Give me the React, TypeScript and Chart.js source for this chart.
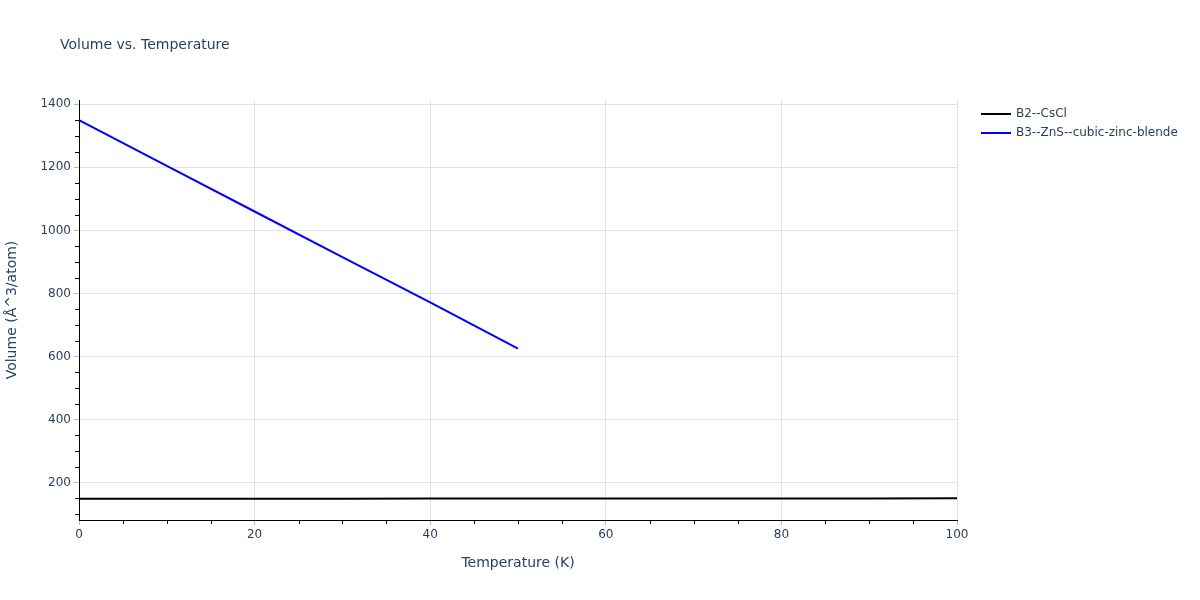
import React, { useEffect, useRef } from "react";
import { Chart, registerables } from "chart.js";

Chart.register(...registerables);

const titleText = "Volume vs. Temperature";
const xTitle = "Temperature (K)";
const yTitle = "Volume (Å^3/atom)";

const seriesNames = ["B2--CsCl", "B3--ZnS--cubic-zinc-blende"];
const seriesColors = ["#000000", "#0000ff"];

const tempCsCl = [0, 10, 20, 30, 40, 50, 60, 70, 80, 90, 100];
const volCsCl = [149.0, 149.1, 149.2, 149.3, 149.4, 149.5, 149.6, 149.7, 149.8, 150.0, 150.2];

const tempZnS = [0, 10, 20, 30, 40, 50];
const volZnS = [1350, 1205, 1060, 915, 772, 625];

const xTicks = [0, 20, 40, 60, 80, 100];
const yTicks = [200, 400, 600, 800, 1000, 1200, 1400];
const xMinorStep = 5;
const yMinorStep = 50;

const X_MIN = 0;
const X_MAX = 100;
const Y_MIN = 81.6;
const Y_MAX = 1413.6;

const FONT = "'DejaVu Sans', sans-serif";
const TEXT_COLOR = "#2a3f5f";

const decorPlugin = {
  id: "decor",
  afterDraw(chart: any) {
    const ctx = chart.ctx as CanvasRenderingContext2D;
    const area = chart.chartArea;
    const xs = chart.scales.x;
    const ys = chart.scales.y;
    ctx.save();
    // minor ticks
    ctx.strokeStyle = "#000000";
    ctx.lineWidth = 1;
    ctx.beginPath();
    for (let v = X_MIN; v <= X_MAX + 1e-9; v += xMinorStep) {
      if (xTicks.includes(v)) continue;
      const px = Math.round(xs.getPixelForValue(v)) + 0.5;
      ctx.moveTo(px, area.bottom);
      ctx.lineTo(px, area.bottom + 4);
    }
    for (let v = Math.ceil(Y_MIN / yMinorStep) * yMinorStep; v <= Y_MAX; v += yMinorStep) {
      if (yTicks.includes(v)) continue;
      const py = Math.round(ys.getPixelForValue(v)) + 0.5;
      ctx.moveTo(area.left, py);
      ctx.lineTo(area.left - 4, py);
    }
    ctx.stroke();

    // title
    ctx.fillStyle = TEXT_COLOR;
    ctx.textBaseline = "middle";
    ctx.textAlign = "left";
    ctx.font = `14px ${FONT}`;
    ctx.fillText(titleText, 60, 45);

    // axis titles
    ctx.font = `14px ${FONT}`;
    ctx.textAlign = "center";
    ctx.fillText(xTitle, (area.left + area.right) / 2, 563);
    ctx.save();
    ctx.translate(12, (area.top + area.bottom) / 2);
    ctx.rotate(-Math.PI / 2);
    ctx.fillText(yTitle, 0, 0);
    ctx.restore();

    // legend
    ctx.font = `12px ${FONT}`;
    ctx.textAlign = "left";
    seriesNames.forEach((name, i) => {
      const y = 114 + i * 19;
      ctx.strokeStyle = seriesColors[i];
      ctx.lineWidth = 2;
      ctx.beginPath();
      ctx.moveTo(981, y);
      ctx.lineTo(1011, y);
      ctx.stroke();
      ctx.fillStyle = TEXT_COLOR;
      ctx.fillText(name, 1016, y);
    });
    ctx.restore();
  },
};

export default function App() {
  const ref = useRef<HTMLCanvasElement | null>(null);
  useEffect(() => {
    if (!ref.current) return;
    const chart = new Chart(ref.current, {
      type: "line",
      data: {
        datasets: [
          {
            label: seriesNames[0],
            data: tempCsCl.map((t, i) => ({ x: t, y: volCsCl[i] })),
            borderColor: seriesColors[0],
            backgroundColor: seriesColors[0],
            borderWidth: 2,
            pointRadius: 0,
            tension: 0,
          },
          {
            label: seriesNames[1],
            data: tempZnS.map((t, i) => ({ x: t, y: volZnS[i] })),
            borderColor: seriesColors[1],
            backgroundColor: seriesColors[1],
            borderWidth: 2,
            pointRadius: 0,
            tension: 0,
          },
        ],
      },
      options: {
        animation: false,
        responsive: false,
        maintainAspectRatio: false,
        layout: { padding: { top: 100, right: 243, left: 0, bottom: 0 } },
        plugins: {
          legend: { display: false },
          title: { display: false },
          tooltip: { enabled: false },
        },
        scales: {
          x: {
            type: "linear",
            min: X_MIN,
            max: X_MAX,
            afterFit: (s: any) => {
              s.height = 80;
            },
            afterBuildTicks: (s: any) => {
              s.ticks = xTicks.map((v) => ({ value: v }));
            },
            grid: {
              color: "#e2e2e2",
              lineWidth: 1,
              drawTicks: true,
              tickLength: 5,
              tickColor: "#bdbdbd",
            },
            border: { display: true, color: "#000000", width: 1 },
            ticks: {
              color: TEXT_COLOR,
              font: { family: FONT, size: 12 },
              padding: 3,
              maxRotation: 0,
              callback: (v: any) => String(v),
            },
          },
          y: {
            type: "linear",
            min: Y_MIN,
            max: Y_MAX,
            afterFit: (s: any) => {
              s.width = 79;
            },
            afterBuildTicks: (s: any) => {
              s.ticks = yTicks.map((v) => ({ value: v }));
            },
            grid: {
              color: "#e2e2e2",
              lineWidth: 1,
              drawTicks: true,
              tickLength: 5,
              tickColor: "#bdbdbd",
            },
            border: { display: true, color: "#000000", width: 1 },
            ticks: {
              color: TEXT_COLOR,
              font: { family: FONT, size: 12 },
              padding: 3,
              callback: (v: any) => String(v),
            },
          },
        },
      },
      plugins: [decorPlugin],
    } as any);
    return () => chart.destroy();
  }, []);
  return (
    <div style={{ position: "absolute", left: 0, top: 0, width: 1200, height: 600, background: "#fff" }}>
      <canvas ref={ref} width={1200} height={600} />
    </div>
  );
}
